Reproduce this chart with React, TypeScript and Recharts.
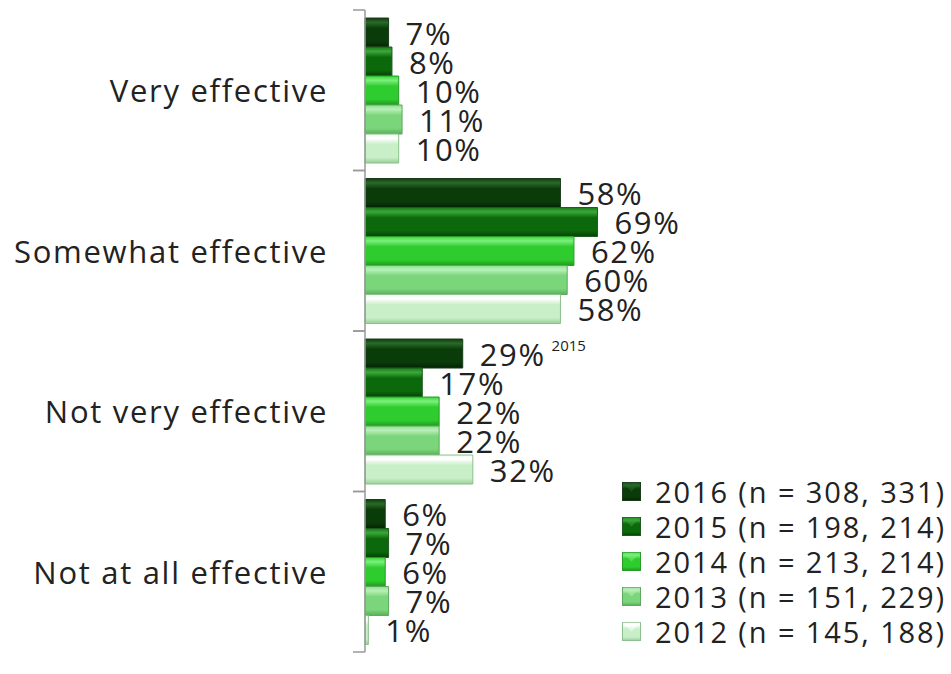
import React from 'react';
import { BarChart, Bar, XAxis, YAxis, LabelList } from 'recharts';

const categories = ['Very effective', 'Somewhat effective', 'Not very effective', 'Not at all effective'];
const y2016 = [7, 58, 29, 6];
const y2015 = [8, 69, 17, 7];
const y2014 = [10, 62, 22, 6];
const y2013 = [11, 60, 22, 7];
const y2012 = [10, 58, 32, 1];
const seriesNames = ['2016 (n = 308, 331)', '2015 (n = 198, 214)', '2014 (n = 213, 214)', '2013 (n = 151, 229)', '2012 (n = 145, 188)'];
const note = { series: 'y2016', category: 'Not very effective', text: '2015' };

const data = categories.map((c, i) => ({
  category: c,
  y2016: y2016[i],
  y2015: y2015[i],
  y2014: y2014[i],
  y2013: y2013[i],
  y2012: y2012[i],
}));

const FONT = "'Open Sans', 'DejaVu Sans', sans-serif";
const TEXT = '#222';

// bevel-ish look per series
const shades = [
  { key: 'y2016', edge: '#0d3f0d', hi: '#2a6a2a', main: '#0a3c0a', dark: '#042204', stroke: '#1c3a1c' },
  { key: 'y2015', edge: '#1a7a1a', hi: '#3aa83a', main: '#0b690b', dark: '#064006', stroke: '#1f5a1f' },
  { key: 'y2014', edge: '#3ad83a', hi: '#7af07a', main: '#2fcc2f', dark: '#1f9a1f', stroke: '#2a9a2a' },
  { key: 'y2013', edge: '#8fe08f', hi: '#b8f0b8', main: '#7bd57b', dark: '#58b058', stroke: '#5fa85f' },
  { key: 'y2012', edge: '#f0fff0', hi: '#ffffff', main: '#c9efc9', dark: '#98d098', stroke: '#8cbf8c' },
];

const PLOT_TOP = 10;
const PLOT_BOTTOM = 652;
const AXIS_X = 365;
const BAND = (PLOT_BOTTOM - PLOT_TOP) / categories.length;

const CategoryTick = (props: any) => {
  const { y, payload } = props;
  return (
    <g>
      <line x1={AXIS_X - 12} x2={AXIS_X} y1={y - BAND / 2} y2={y - BAND / 2} stroke="#999" strokeWidth={1.5} />
      <line x1={AXIS_X - 12} x2={AXIS_X} y1={y + BAND / 2} y2={y + BAND / 2} stroke="#999" strokeWidth={1.5} />
      <text x={AXIS_X - 37} y={y} textAnchor="end" dominantBaseline="central" fontSize={31} letterSpacing={1.7} fill={TEXT} fontFamily={FONT}>
        {payload.value}
      </text>
    </g>
  );
};

const ValueLabel = (props: any) => {
  const { x, y, width, height, value, index, series } = props;
  const tx = x + width + 17;
  const ty = y + height / 2;
  const hasNote = series === note.series && categories[index] === note.category;
  return (
    <text x={tx} y={ty} dominantBaseline="central" fontSize={31} letterSpacing={1.6} fill={TEXT} fontFamily={FONT}>
      {value}%
      {hasNote ? (
        <tspan fontSize={15} letterSpacing={0} dx={6} dy={-9}>{note.text}</tspan>
      ) : null}
    </text>
  );
};

const LegendBox = () => (
  <div style={{ position: 'absolute', left: 622, top: 474, fontFamily: FONT }}>
    {seriesNames.map((n, i) => (
      <div key={n} style={{ display: 'flex', alignItems: 'center', height: 35 }}>
        <svg width={19} height={19} style={{ marginRight: 14 }}>
          <rect x={0.5} y={0.5} width={18} height={18} fill={`url(#grad${i})`} stroke={shades[i].stroke} />
          <path d="M0.5 0.5 L9.5 9.5 L18.5 0.5" fill={shades[i].hi} opacity={0.5} />
        </svg>
        <span style={{ fontSize: 29, letterSpacing: 1.9, color: TEXT, whiteSpace: 'nowrap' }}>{n}</span>
      </div>
    ))}
  </div>
);

export default function App() {
  return (
    <div style={{ position: 'absolute', left: 0, top: 0, width: 951, height: 674, background: '#fff' }}>
      <svg width={0} height={0} style={{ position: 'absolute' }}>
        <defs>
          {shades.map((s, i) => (
            <linearGradient key={s.key} id={`grad${i}`} x1="0" y1="0" x2="0" y2="1">
              <stop offset="0" stopColor={s.edge} />
              <stop offset="0.15" stopColor={s.hi} />
              <stop offset="0.35" stopColor={s.main} />
              <stop offset="0.8" stopColor={s.main} />
              <stop offset="1" stopColor={s.dark} />
            </linearGradient>
          ))}
        </defs>
      </svg>
      <BarChart
        width={951}
        height={674}
        data={data}
        layout="vertical"
        margin={{ top: PLOT_TOP, right: 249, bottom: 674 - PLOT_BOTTOM, left: 0 }}
        barCategoryGap="5%"
        barGap={0}
      >
        <XAxis type="number" domain={[0, 100]} hide />
        <YAxis
          type="category"
          dataKey="category"
          width={AXIS_X}
          axisLine={{ stroke: '#999', strokeWidth: 1.5 }}
          tickLine={false}
          tick={<CategoryTick />}
        />
        {shades.map((s, i) => (
          <Bar
            key={s.key}
            dataKey={s.key}
            name={seriesNames[i]}
            fill={`url(#grad${i})`}
            stroke={s.stroke}
            strokeWidth={1}
            isAnimationActive={false}
          >
            <LabelList dataKey={s.key} content={<ValueLabel series={s.key} />} />
          </Bar>
        ))}
      </BarChart>
      <LegendBox />
    </div>
  );
}
